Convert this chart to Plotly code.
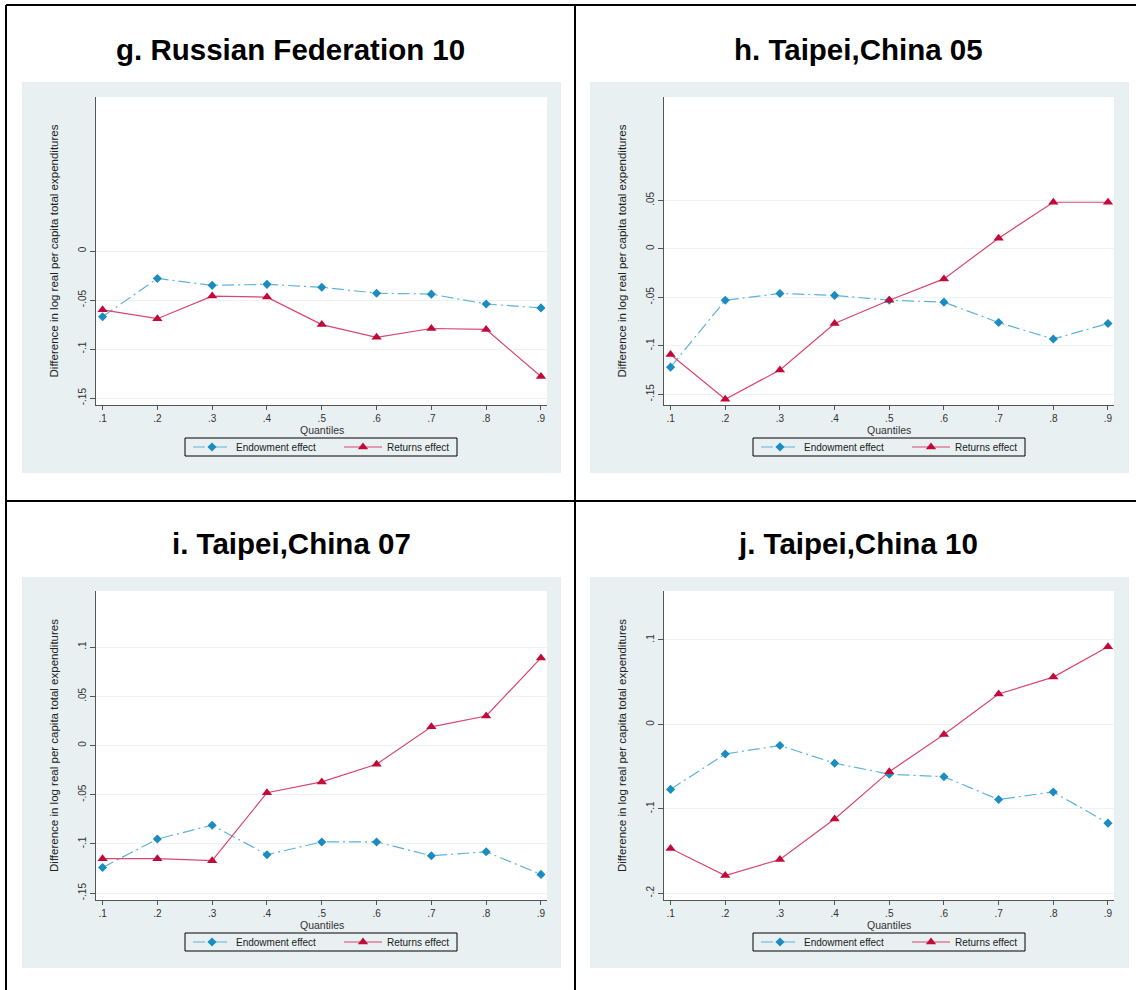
import plotly.graph_objects as go

W, H = 1136, 990

quantiles = [0.1, 0.2, 0.3, 0.4, 0.5, 0.6, 0.7, 0.8, 0.9]
quantile_labels = [".1", ".2", ".3", ".4", ".5", ".6", ".7", ".8", ".9"]

titles = ["g. Russian Federation 10", "h. Taipei,China 05", "i. Taipei,China 07", "j. Taipei,China 10"]

endow_g = [-0.067, -0.028, -0.035, -0.034, -0.037, -0.043, -0.044, -0.054, -0.058]
returns_g = [-0.060, -0.069, -0.046, -0.047, -0.075, -0.088, -0.079, -0.080, -0.128]

endow_h = [-0.122, -0.053, -0.046, -0.048, -0.053, -0.055, -0.076, -0.093, -0.077]
returns_h = [-0.109, -0.155, -0.125, -0.077, -0.053, -0.031, 0.011, 0.048, 0.048]

endow_i = [-0.124, -0.095, -0.081, -0.111, -0.098, -0.098, -0.112, -0.108, -0.131]
returns_i = [-0.115, -0.115, -0.117, -0.048, -0.037, -0.019, 0.019, 0.030, 0.089]

endow_j = [-0.077, -0.035, -0.025, -0.046, -0.059, -0.062, -0.089, -0.080, -0.117]
returns_j = [-0.147, -0.179, -0.160, -0.112, -0.056, -0.012, 0.036, 0.056, 0.092]

yticks_g = [-0.15, -0.1, -0.05, 0]
yticks_h = [-0.15, -0.1, -0.05, 0, 0.05]
yticks_i = [-0.15, -0.1, -0.05, 0, 0.05, 0.1]
yticks_j = [-0.2, -0.1, 0, 0.1]
ylabels_g = ["-.15", "-.1", "-.05", "0"]
ylabels_h = ["-.15", "-.1", "-.05", "0", ".05"]
ylabels_i = ["-.15", "-.1", "-.05", "0", ".05", ".1"]
ylabels_j = ["-.2", "-.1", "0", ".1"]

yranges = [[-0.157, 0.157], [-0.161, 0.1565], [-0.157, 0.157], [-0.208, 0.158]]

ytitle = "Difference in log real per capita total expenditures"
xtitle = "Quantiles"

BLUE_M = "#1a8cc0"
BLUE_L = "#5db3d9"
RED_M = "#c20a3a"
RED_L = "#d9466e"
GRAY_BG = "#e8f0f1"
FONT = "Arial, Liberation Sans, sans-serif"


def px_x(x):
    return x / W


def px_y(y):
    return 1 - y / H


# pixel layout of the four panels: plot box, gray box, legend box, title centre
panels = [
    dict(plot=(96, 547, 97, 405), bg=(22, 561, 82, 473), leg=(185, 457, 438, 456), title=(290.5, 50)),
    dict(plot=(664, 1114, 97, 405), bg=(590, 1129, 82, 473), leg=(753, 1025, 438, 456), title=(858, 50)),
    dict(plot=(96, 547, 591, 900), bg=(22, 561, 577, 968), leg=(185, 457, 933, 951), title=(291, 543)),
    dict(plot=(664, 1114, 591, 900), bg=(590, 1129, 577, 968), leg=(753, 1025, 933, 951), title=(858, 543)),
]
series = [(endow_g, returns_g), (endow_h, returns_h), (endow_i, returns_i), (endow_j, returns_j)]
yticks = [(yticks_g, ylabels_g), (yticks_h, ylabels_h), (yticks_i, ylabels_i), (yticks_j, ylabels_j)]

fig = go.Figure()
shapes = []
annotations = []
layout = {}

for k, (panel, (endow, rets), (tv, tt), yr) in enumerate(zip(panels, series, yticks, yranges), start=1):
    sfx = "" if k == 1 else str(k)
    leg = "legend" if k == 1 else f"legend{k}"
    x0, x1, y0, y1 = panel["plot"]
    bx0, bx1, by0, by1 = panel["bg"]
    lx0, lx1, ly0, ly1 = panel["leg"]

    shapes.append(dict(type="rect", xref="paper", yref="paper", x0=px_x(bx0), x1=px_x(bx1),
                       y0=px_y(by1), y1=px_y(by0), fillcolor=GRAY_BG, line_width=0, layer="below"))
    shapes.append(dict(type="rect", xref="paper", yref="paper", x0=px_x(x0), x1=px_x(x1),
                       y0=px_y(y1), y1=px_y(y0), fillcolor="white", line_width=0, layer="below"))
    # legend frame
    shapes.append(dict(type="rect", xref="paper", yref="paper", x0=px_x(lx0), x1=px_x(lx1),
                       y0=px_y(ly1), y1=px_y(ly0), line=dict(color="black", width=1), layer="above"))

    fig.add_scatter(x=quantiles, y=endow, mode="lines+markers", name="Endowment effect",
                    xaxis=f"x{sfx}", yaxis=f"y{sfx}", legend=leg,
                    line=dict(color=BLUE_L, width=1.2, dash="12px,4px,2px,4px"),
                    marker=dict(symbol="diamond", size=7, color=BLUE_M))
    fig.add_scatter(x=quantiles, y=rets, mode="lines+markers", name="Returns effect",
                    xaxis=f"x{sfx}", yaxis=f"y{sfx}", legend=leg,
                    line=dict(color=RED_L, width=1.2),
                    marker=dict(symbol="triangle-up", size=9, color=RED_M))

    layout[f"xaxis{sfx}"] = dict(
        domain=[px_x(x0), px_x(x1)], anchor=f"y{sfx}", range=[0.088, 0.911],
        tickvals=quantiles, ticktext=quantile_labels, ticks="outside", ticklen=4,
        tickcolor="#555", showline=True, linecolor="#555", linewidth=1, showgrid=False,
        zeroline=False, tickfont=dict(family=FONT, size=10, color="#333"),
    )
    layout[f"yaxis{sfx}"] = dict(
        domain=[px_y(y1), px_y(y0)], anchor=f"x{sfx}", range=yr,
        tickvals=tv, ticktext=tt, tickangle=-90, ticks="outside", ticklen=5,
        tickcolor="#555", showline=True, linecolor="#555", linewidth=1,
        showgrid=True, gridcolor="#edf3f3", gridwidth=1, zeroline=False,
        tickfont=dict(family=FONT, size=10, color="#333"),
        title=dict(text=ytitle, font=dict(family=FONT, size=11.5, color="#222"), standoff=15),
    )
    layout[leg] = dict(
        orientation="h", x=px_x(lx0 + 3), xanchor="left", y=px_y((ly0 + ly1) / 2), yanchor="middle",
        bgcolor="rgba(0,0,0,0)", borderwidth=0, entrywidth=98, itemwidth=38,
        font=dict(family=FONT, size=10, color="#222"), itemclick=False,
    )

    annotations.append(dict(text=xtitle, xref="paper", yref="paper",
                            x=px_x((x0 + x1) / 2), y=px_y(y1 + 25), xanchor="center", yanchor="middle",
                            showarrow=False, font=dict(family=FONT, size=10.5, color="#333")))
    tx, ty = panel["title"]
    annotations.append(dict(text=f"<b>{titles[k - 1]}</b>", xref="paper", yref="paper",
                            x=px_x(tx), y=px_y(ty), xanchor="center", yanchor="middle",
                            showarrow=False, font=dict(family=FONT, size=29.5, color="black")))

# panel frames
for x0_, y0_, x1_, y1_ in [(6, 5, 1136, 5), (6, 5, 6, 990), (575, 5, 575, 990), (6, 501, 1136, 501)]:
    shapes.append(dict(type="line", xref="paper", yref="paper", x0=px_x(x0_), y0=px_y(y0_),
                       x1=px_x(x1_), y1=px_y(y1_), line=dict(color="black", width=2), layer="above"))

fig.update_layout(
    width=W, height=H, margin=dict(l=0, r=0, t=0, b=0),
    paper_bgcolor="white", plot_bgcolor="rgba(0,0,0,0)",
    shapes=shapes, annotations=annotations, **layout,
)

fig.write_html("out.html", config={"displayModeBar": False},
               post_script="document.body.style.margin='0px';")
